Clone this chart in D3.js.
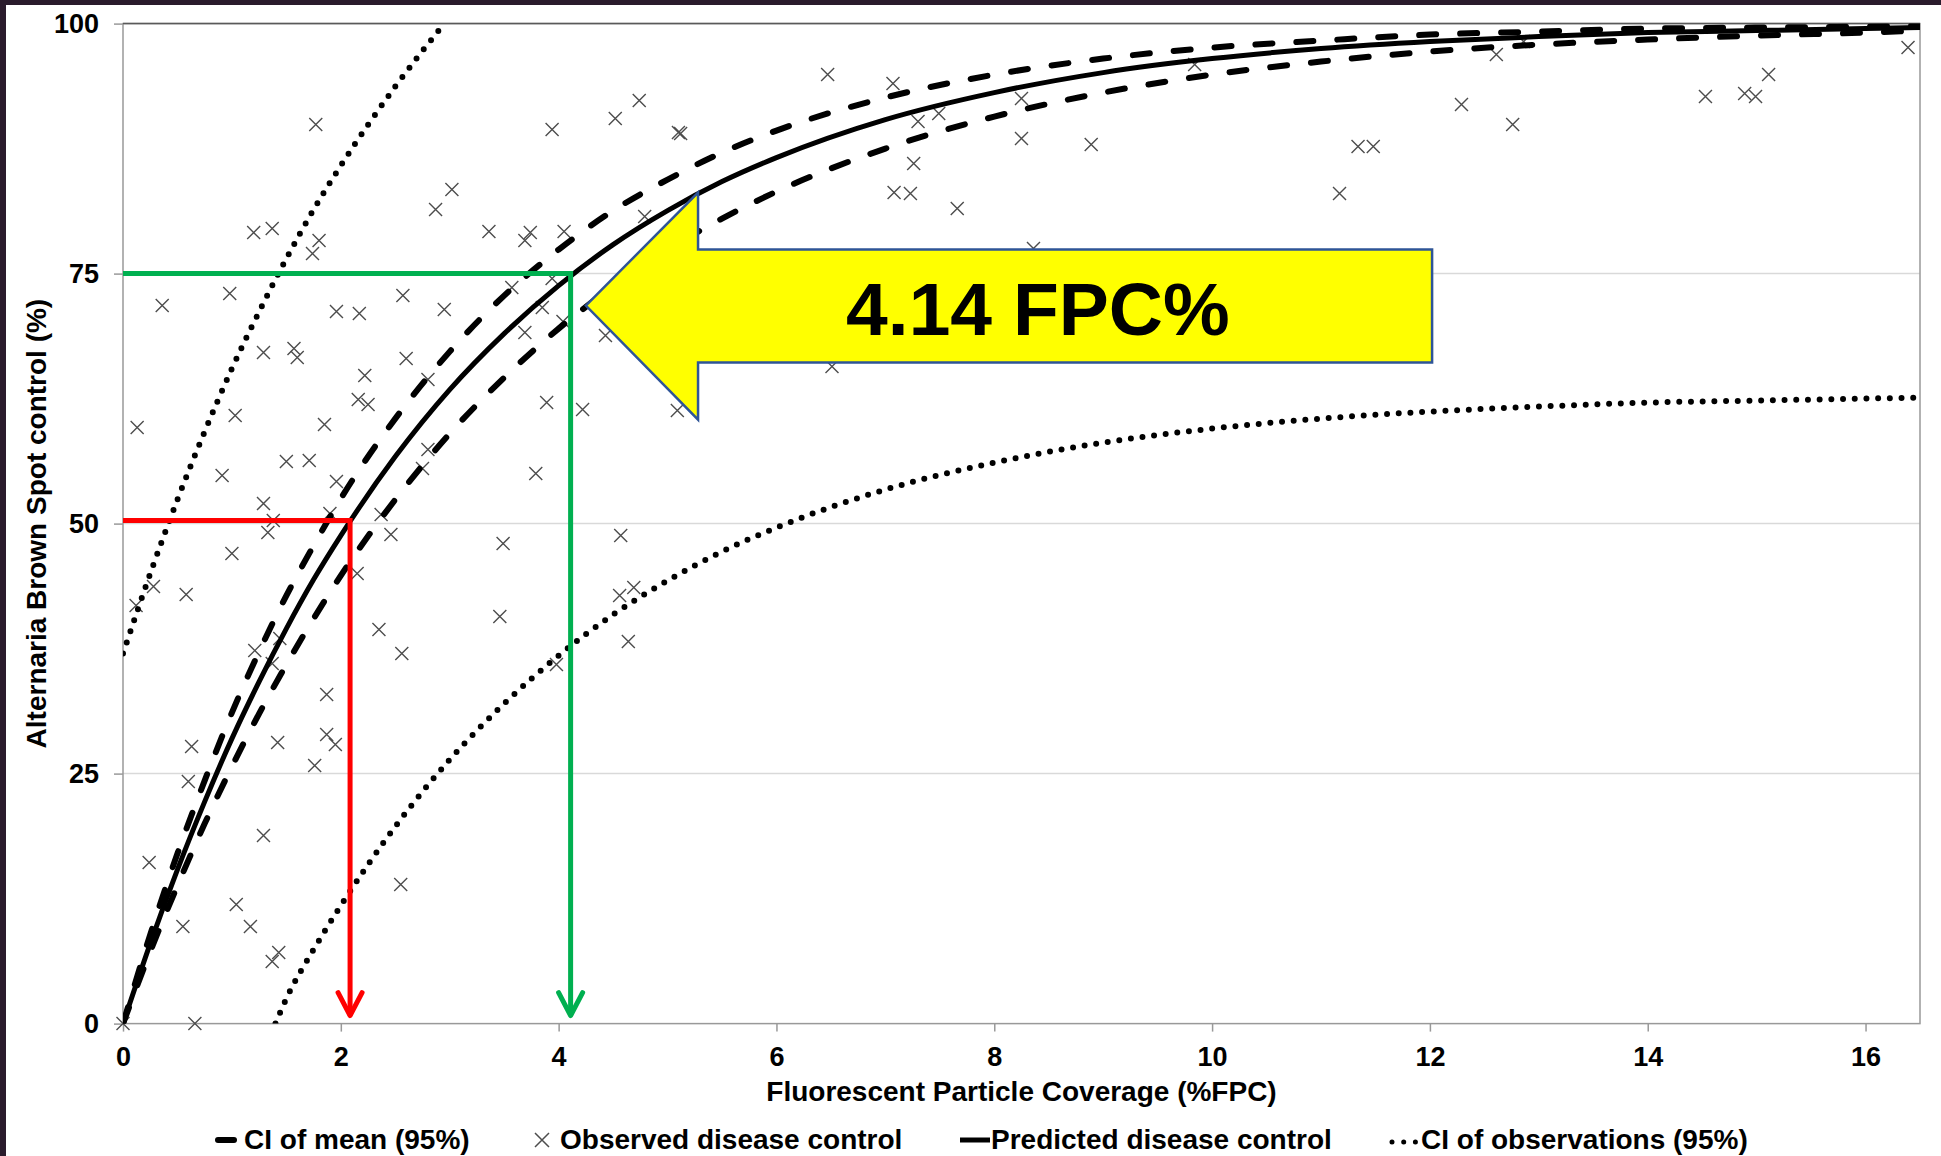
<!DOCTYPE html>
<html>
<head>
<meta charset="utf-8">
<script src="https://cdn.jsdelivr.net/npm/d3@7"></script>
<style>
  html, body { margin: 0; padding: 0; background: #fff; overflow: hidden; }
  svg { display: block; font-family: "Liberation Sans", Arial, sans-serif; font-weight: bold; }
</style>
</head>
<body>
<div id="chart"></div>
<script>
// Axis ticks
const xTicks = [0, 2, 4, 6, 8, 10, 12, 14, 16]
const yTicks = [0, 25, 50, 75, 100]

// Fitted curves at these x positions
const curveX = [0, 0.25, 0.5, 0.75, 1, 1.25, 1.5, 1.75, 2, 2.5, 3, 3.5, 4, 4.5, 5, 5.5, 6, 7, 8, 9, 10, 11, 12, 13, 14, 15, 16, 16.5]
const predicted = [0, 8.0, 15.4, 22.2, 28.5, 34.2, 39.5, 44.4, 48.8, 56.7, 63.4, 69.0, 73.8, 77.9, 81.3, 84.2, 86.6, 90.4, 93.1, 95.1, 96.5, 97.5, 98.2, 98.7, 99.1, 99.3, 99.5, 99.6]
const ciMeanUpper = [0, 8.9, 17.0, 24.3, 31.1, 37.2, 42.8, 47.8, 52.5, 60.5, 67.2, 72.8, 77.4, 81.3, 84.4, 87.1, 89.3, 92.6, 94.9, 96.5, 97.6, 98.3, 98.9, 99.2, 99.5, 99.6, 99.7, 99.8]
const ciMeanLower = [0, 7.2, 13.8, 20.0, 25.7, 31.0, 35.9, 40.5, 44.8, 52.4, 59.0, 64.6, 69.5, 73.7, 77.4, 80.5, 83.2, 87.5, 90.7, 93.1, 94.9, 96.2, 97.2, 97.9, 98.4, 98.8, 99.1, 99.3]

// CI of observations (dotted)
const ciObsUpperX = [0, 0.25, 0.5, 0.75, 1, 1.25, 1.5, 1.75, 2, 2.5, 2.95]
const ciObsUpper = [37.0, 45.0, 52.4, 59.2, 65.5, 71.2, 76.5, 81.4, 85.8, 93.7, 100]
const ciObsLowerX = [1.4, 1.5, 1.75, 2, 2.5, 3, 3.5, 4, 4.5, 5, 5.5, 6, 7, 8, 9, 10, 11, 12, 13, 14, 15, 16, 16.5]
const ciObsLower = [0, 2.5, 7.4, 11.8, 19.7, 26.4, 32.0, 36.8, 40.9, 44.3, 47.2, 49.6, 53.4, 56.1, 58.1, 59.5, 60.5, 61.2, 61.7, 62.1, 62.3, 62.5, 62.6]

// Observed disease control
const obsX = [
  0, 0.66, 0.12, 0.13, 0.24, 0.28, 0.36, 0.55, 0.58, 0.60,
  0.63, 0.91, 0.98, 1.00, 1.03, 1.04, 1.17, 1.20, 1.21, 1.29,
  1.29, 1.29, 1.33, 1.37, 1.37, 1.37, 1.38, 1.42, 1.43, 1.44,
  1.50, 1.57, 1.60, 1.71, 1.74, 1.76, 1.77, 1.80, 1.85, 1.87,
  1.87, 1.90, 1.95, 1.96, 1.96, 2.15, 2.16, 2.17, 2.22, 2.25,
  2.35, 2.37, 2.46, 2.55, 2.56, 2.57, 2.60, 2.75, 2.80, 2.80,
  2.87, 2.95, 3.02, 3.36, 3.46, 3.49, 3.57, 3.69, 3.69, 3.74,
  3.79, 3.85, 3.89, 3.94, 3.94, 3.98, 4.04, 4.05, 4.22, 4.43,
  4.52, 4.56, 4.57, 4.64, 4.69, 4.74, 4.79, 5.09, 5.10, 5.12,
  6.47, 6.51, 7.07, 7.08, 7.23, 7.26, 7.30, 7.49, 7.66, 8.25,
  8.25, 8.36, 8.89, 9.84, 11.17, 11.34, 11.48, 12.29, 12.61, 12.76,
  12.86, 14.53, 14.89, 14.99, 15.11, 16.39
]
const obsY = [
  0, 0, 41.8, 59.6, 16.1, 43.7, 71.8, 9.7, 42.9, 24.2,
  27.7, 54.8, 73.0, 47.0, 60.8, 11.9, 9.7, 79.1, 37.3, 67.1,
  52.0, 18.8, 49.1, 79.5, 36.0, 6.2, 50.3, 28.1, 7.1, 38.5,
  56.2, 67.5, 66.6, 56.3, 77.0, 25.8, 89.9, 78.3, 59.9, 32.9,
  28.9, 51.0, 27.9, 71.2, 54.2, 45.0, 62.4, 71.0, 64.8, 61.9,
  39.4, 50.9, 48.9, 13.9, 37.0, 72.8, 66.5, 55.5, 64.4, 57.4,
  81.4, 71.4, 83.4, 79.2, 40.7, 48.0, 73.6, 78.3, 69.1, 79.1,
  55.0, 71.6, 62.1, 89.4, 74.5, 35.9, 70.2, 79.2, 61.4, 68.8,
  90.5, 42.8, 48.8, 38.2, 43.6, 92.3, 80.7, 61.3, 89.1, 89.0,
  94.9, 65.7, 94.0, 83.1, 83.0, 86.0, 90.2, 91.0, 81.5, 92.5,
  88.5, 77.5, 87.9, 95.9, 83.0, 87.7, 87.7, 91.9, 96.9, 89.9,
  98.2, 92.7, 93.0, 92.7, 94.9, 97.6
]

// Read-off guides: 50 % and 75 % control
const guide50 = [2.085, 50.3]
const guide75 = [4.11, 75]

// Callout arrow (data units) and its label
const calloutShape = [[4.25, 71.8], [5.28, 83.1], [5.28, 77.4], [12.02, 77.4], [12.02, 66.1], [5.28, 66.1], [5.28, 60.4]]
const calloutLabel = "4.14 FPC%"
const calloutAt = [8.40, 68.86]

const legendLabels = ["CI of mean (95%)", "Observed disease control", "Predicted disease control", "CI of observations (95%)"]

const width = 1941, height = 1156
const plot = { left: 123, right: 1920, top: 23.6, bottom: 1023.6 }

const svg = d3.select("#chart").append("svg")
    .attr("width", width)
    .attr("height", height)
    .attr("viewBox", [0, 0, width, height])

svg.append("rect").attr("width", width).attr("height", height).attr("fill", "#fff")
// slide background peeking at the top and left edges
svg.append("rect").attr("width", width).attr("height", 5).attr("fill", "#2a1b2c")
svg.append("rect").attr("width", 6).attr("height", height).attr("fill", "#2a1b2c")

const x = d3.scaleLinear().domain([0, 16.5]).range([plot.left, plot.right])
const y = d3.scaleLinear().domain([0, 100]).range([plot.bottom, plot.top])

svg.append("defs").append("clipPath").attr("id", "plot-clip")
    .append("rect")
    .attr("x", plot.left).attr("y", plot.top)
    .attr("width", plot.right - plot.left).attr("height", plot.bottom - plot.top)

// Gridlines
svg.append("g")
    .selectAll("line")
    .data(yTicks.filter(d => d > 0 && d < 100))
    .join("line")
    .attr("x1", plot.left).attr("x2", plot.right)
    .attr("y1", d => y(d)).attr("y2", d => y(d))
    .attr("stroke", "#d9d9d9")
    .attr("stroke-width", 1.5)

// Ejes
const styleAxis = g => {
    g.select(".domain").remove()
    g.selectAll(".tick line").attr("stroke", "#999").attr("stroke-width", 1.5)
    g.selectAll(".tick text")
        .attr("fill", "#000")
        .style("font-size", "27px")
        .style("font-weight", "bold")
        .style("font-family", '"Liberation Sans", Arial, sans-serif')
}

svg.append("g")
    .attr("transform", `translate(0,${plot.bottom})`)
    .call(d3.axisBottom(x).tickValues(xTicks).tickSize(8).tickPadding(15).tickFormat(d3.format("d")))
    .call(styleAxis)

svg.append("g")
    .attr("transform", `translate(${plot.left},0)`)
    .call(d3.axisLeft(y).tickValues(yTicks).tickSize(9).tickPadding(15).tickFormat(d3.format("d")))
    .call(styleAxis)

// Plot frame
svg.append("rect")
    .attr("x", plot.left).attr("y", plot.top)
    .attr("width", plot.right - plot.left).attr("height", plot.bottom - plot.top)
    .attr("fill", "none")
    .attr("stroke", "#999")
    .attr("stroke-width", 1.5)
svg.append("line")
    .attr("x1", plot.left).attr("x2", plot.right)
    .attr("y1", plot.top).attr("y2", plot.top)
    .attr("stroke", "#5a5a5a")
    .attr("stroke-width", 1.5)

// Axis titles
svg.append("text")
    .attr("x", (plot.left + plot.right) / 2)
    .attr("y", 1101)
    .attr("text-anchor", "middle")
    .style("font-size", "28px")
    .text("Fluorescent Particle Coverage (%FPC)")

svg.append("text")
    .attr("transform", `translate(46,${(plot.top + plot.bottom) / 2}) rotate(-90)`)
    .attr("text-anchor", "middle")
    .style("font-size", "28px")
    .text("Alternaria Brown Spot control (%)")

// Observed points as crosses (not clipped, the ones on the axis show whole)
const cross = 6.5
svg.append("g")
    .selectAll("path")
    .data(d3.zip(obsX, obsY))
    .join("path")
    .attr("d", d => {
        const cx = x(d[0]), cy = y(d[1])
        return `M${cx - cross},${cy - cross}L${cx + cross},${cy + cross}M${cx - cross},${cy + cross}L${cx + cross},${cy - cross}`
    })
    .attr("stroke", "#4d4d4d")
    .attr("stroke-width", 1.4)
    .attr("fill", "none")

const chart = svg.append("g").attr("clip-path", "url(#plot-clip)")

const line = d3.line()
    .x(d => x(d[0]))
    .y(d => y(d[1]))
    .curve(d3.curveMonotoneX)

// CI of observations
chart.selectAll("path.obs-ci")
    .data([d3.zip(ciObsUpperX, ciObsUpper), d3.zip(ciObsLowerX, ciObsLower)])
    .join("path")
    .attr("class", "obs-ci")
    .attr("d", line)
    .attr("fill", "none")
    .attr("stroke", "#000")
    .attr("stroke-width", 6)
    .attr("stroke-linecap", "round")
    .attr("stroke-dasharray", "0 11.7")

// CI of mean
chart.selectAll("path.mean-ci")
    .data([d3.zip(curveX, ciMeanUpper), d3.zip(curveX, ciMeanLower)])
    .join("path")
    .attr("class", "mean-ci")
    .attr("d", line)
    .attr("fill", "none")
    .attr("stroke", "#000")
    .attr("stroke-width", 6)
    .attr("stroke-linecap", "round")
    .attr("stroke-dasharray", "17 24")

// Predicted
chart.append("path")
    .datum(d3.zip(curveX, predicted))
    .attr("d", line)
    .attr("fill", "none")
    .attr("stroke", "#000")
    .attr("stroke-width", 5)

// Guides with arrowheads
const guides = [
    { at: guide50, color: "#ff0000" },
    { at: guide75, color: "#00b050" }
]
guides.forEach(gd => {
    const gx = x(gd.at[0]), gy = y(gd.at[1]), tip = y(0.8)
    svg.append("path")
        .attr("d", `M${x(0)},${gy}H${gx}V${tip}`)
        .attr("fill", "none")
        .attr("stroke", gd.color)
        .attr("stroke-width", 5)
    svg.append("path")
        .attr("d", `M${gx - 12},${tip - 23}L${gx},${tip}L${gx + 12},${tip - 23}`)
        .attr("fill", "none")
        .attr("stroke", gd.color)
        .attr("stroke-width", 5)
        .attr("stroke-linecap", "round")
        .attr("stroke-linejoin", "round")
})

// Callout
svg.append("path")
    .attr("d", "M" + calloutShape.map(p => `${x(p[0])},${y(p[1])}`).join("L") + "Z")
    .attr("fill", "#ffff00")
    .attr("stroke", "#2f5597")
    .attr("stroke-width", 2.5)

svg.append("text")
    .attr("x", x(calloutAt[0]))
    .attr("y", y(calloutAt[1]))
    .attr("text-anchor", "middle")
    .style("font-size", "75px")
    .text(calloutLabel)

// Legend
const legendY = 1140
const legend = svg.append("g")
const legendTextX = [244, 560, 991, 1421]
legendLabels.forEach((label, i) => {
    legend.append("text")
        .attr("x", legendTextX[i])
        .attr("y", legendY + 9)
        .style("font-size", "28px")
        .text(label)
})
legend.append("line")
    .attr("x1", 218).attr("x2", 234)
    .attr("y1", legendY).attr("y2", legendY)
    .attr("stroke", "#000").attr("stroke-width", 6).attr("stroke-linecap", "round")
legend.append("path")
    .attr("d", `M${542 - 7},${legendY - 7}L${542 + 7},${legendY + 7}M${542 - 7},${legendY + 7}L${542 + 7},${legendY - 7}`)
    .attr("stroke", "#4d4d4d").attr("stroke-width", 1.5)
legend.append("line")
    .attr("x1", 960).attr("x2", 990)
    .attr("y1", legendY).attr("y2", legendY)
    .attr("stroke", "#000").attr("stroke-width", 5)
legend.append("line")
    .attr("x1", 1392).attr("x2", 1416)
    .attr("y1", legendY + 2).attr("y2", legendY + 2)
    .attr("stroke", "#000").attr("stroke-width", 5).attr("stroke-linecap", "round")
    .attr("stroke-dasharray", "0 11.7")
</script>
</body>
</html>
